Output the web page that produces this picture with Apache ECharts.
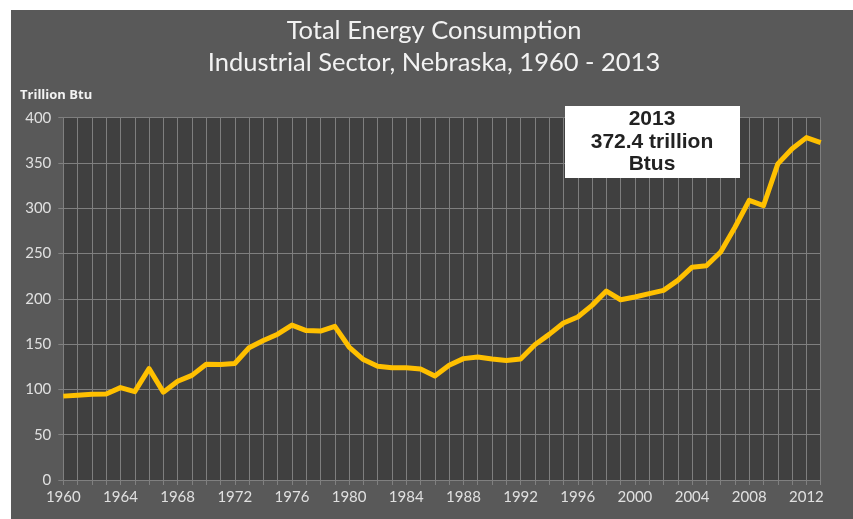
<!DOCTYPE html>
<html>
<head>
<meta charset="utf-8">
<script src="https://cdn.jsdelivr.net/npm/echarts@6/dist/echarts.min.js"></script>
<style>
  html, body { margin: 0; padding: 0; background: #fff; }
  #main { width: 853px; height: 519px; }
</style>
</head>
<body>
<div id="main"></div>
<script>
var years = [];
for (var y = 1960; y <= 2013; y++) years.push(String(y));

// Trillion Btu
var consumption = [
    92.6, 93.5, 94.6, 95, 102, 97.5, 123, 97, 109, 115.5,
    127.7, 127.5, 128.6, 146, 154, 161, 171, 165, 164.5, 169.6,
    146.8, 133, 125.5, 124, 124, 122.5, 114.8, 126.6, 134, 135.8,
    133.6, 132, 133.6, 149.4, 160.8, 173.3, 180, 192.8, 208.6, 199,
    202, 205.7, 209.4, 220.4, 235, 236.6, 251.7, 279, 308.7, 303,
    349, 365.8, 378, 372.4
];

var titleLines = ['Total Energy Consumption', 'Industrial Sector, Nebraska, 1960 - 2013'];
var noteLines = ['2013', '372.4 trillion', 'Btus'];

var chart = echarts.init(document.getElementById('main'));
var option = {
    backgroundColor: '#ffffff',
    animation: false,
    title: {
        text: titleLines.join('\n'),
        left: 429,
        top: 10,
        textAlign: 'center',
        textStyle: {
            color: '#f2f2f2',
            fontFamily: 'Lato',
            fontWeight: 'normal',
            fontSize: 25.5,
            lineHeight: 32
        }
    },
    graphic: [
        {
            type: 'rect',
            z: -10,
            silent: true,
            shape: { x: 11, y: 10, width: 853, height: 519 },
            style: { fill: '#595959' }
        },
        {
            type: 'text',
            left: 20,
            top: 89,
            style: {
                text: 'Trillion Btu',
                fill: '#f2f2f2',
                font: 'bold 13px "Open Sans"'
            }
        },
        {
            type: 'group',
            left: 565,
            top: 106,
            z: 100,
            children: [
                {
                    type: 'rect',
                    z: 100,
                    shape: { x: 0, y: 0, width: 175, height: 72 },
                    style: { fill: '#ffffff' }
                },
                {
                    type: 'text',
                    z: 101,
                    x: 87,
                    y: 36,
                    style: {
                        text: noteLines.join('\n'),
                        fill: '#222222',
                        font: 'bold 21px "Liberation Sans"',
                        lineHeight: 22.5,
                        align: 'center',
                        verticalAlign: 'middle'
                    }
                }
            ]
        }
    ],
    grid: {
        left: 63.3,
        right: 32.3,
        top: 117.7,
        bottom: 39,
        show: true,
        backgroundColor: '#404040',
        borderWidth: 0
    },
    xAxis: {
        type: 'category',
        data: years,
        boundaryGap: false,
        axisLine: { lineStyle: { color: '#808080', width: 1 } },
        axisTick: { show: true, interval: 0, length: 5, lineStyle: { color: '#808080' } },
        splitLine: { show: true, interval: 0, lineStyle: { color: '#7f7f7f', width: 1 } },
        axisLabel: {
            interval: 3,
            color: '#e0e0e0',
            fontFamily: 'Lato',
            fontSize: 15,
            margin: 10
        }
    },
    yAxis: {
        type: 'value',
        min: 0,
        max: 400,
        interval: 50,
        axisLine: { show: true, lineStyle: { color: '#808080', width: 1 } },
        axisTick: { show: true, length: 5, lineStyle: { color: '#808080' } },
        splitLine: { show: true, lineStyle: { color: '#7f7f7f', width: 1 } },
        axisLabel: {
            color: '#e0e0e0',
            fontFamily: 'Lato',
            fontSize: 15,
            margin: 12
        }
    },
    series: [
        {
            name: 'Industrial',
            type: 'line',
            data: consumption,
            showSymbol: false,
            lineStyle: { color: '#ffc000', width: 5, join: 'round' },
            itemStyle: { color: '#ffc000' }
        }
    ]
};
chart.setOption(option);
</script>
</body>
</html>
